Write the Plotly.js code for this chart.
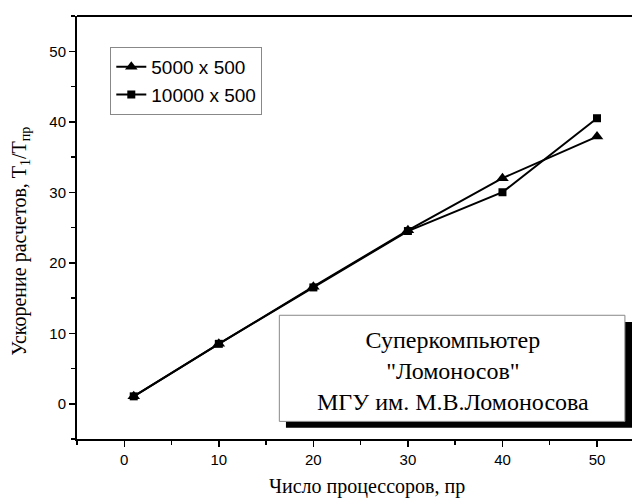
<!DOCTYPE html>
<html><head><meta charset="utf-8">
<script src="https://cdn.plot.ly/plotly-3.0.1.min.js"></script>
<style>html,body{margin:0;padding:0;background:#fff}#chart{width:632px;height:499px}</style>
</head><body><div id="chart"></div>
<script>
const processors = [1, 10, 20, 30, 40, 50];
const speedup5000 = [1.05, 8.5, 16.6, 24.6, 32.0, 37.9];
const speedup10000 = [1.05, 8.5, 16.5, 24.5, 30.0, 40.5];
const seriesNames = ["5000 x 500", "10000 x 500"];
const xTicks = [0, 10, 20, 30, 40, 50];
const yTicks = [0, 10, 20, 30, 40, 50];
const xTitle = "Число процессоров, пр";
const yTitle = "Ускорение расчетов, T<sub>1</sub>/T<sub>пр</sub>";
const boxText = "Суперкомпьютер<br>\"Ломоносов\"<br>МГУ им. М.В.Ломоносова";

const serif = 'Liberation Serif, Times New Roman, serif';
const sans = 'Arial, Liberation Sans, sans-serif';

const traces = [
  {x: processors, y: speedup5000, name: seriesNames[0], mode: 'lines+markers',
   line: {color: '#000', width: 2}, marker: {symbol: 'triangle-up', size: 11, color: '#000'}},
  {x: processors, y: speedup10000, name: seriesNames[1], mode: 'lines+markers',
   line: {color: '#000', width: 2}, marker: {symbol: 'square', size: 8, color: '#000'}}
];
const axisCommon = {
  showgrid: false, zeroline: false, showline: true, linecolor: '#000', linewidth: 2,
  ticks: 'outside', ticklen: 6, tickwidth: 1.5, tickcolor: '#000',
  tickfont: {family: sans, size: 15, color: '#000'},
  minor: {ticks: 'outside', ticklen: 4, tickwidth: 1.5, tickcolor: '#000', dtick: 5}
};
const layout = {
  width: 632, height: 499,
  margin: {l: 77, r: 0, t: 16, b: 60},
  paper_bgcolor: '#fff', plot_bgcolor: '#fff',
  showlegend: true,
  legend: {x: 0.06, y: 0.927, xanchor: 'left', yanchor: 'top', bordercolor: '#888', borderwidth: 1,
    bgcolor: '#fff', font: {family: sans, size: 19, color: '#000'},
    tracegroupgap: 0, itemsizing: 'trace'},
  xaxis: Object.assign({}, axisCommon, {range: [-5, 53.7], tickvals: xTicks}),
  yaxis: Object.assign({}, axisCommon, {range: [-5, 55], tickvals: yTicks}),
  shapes: [
    {type: 'line', xref: 'paper', yref: 'paper', x0: 0, x1: 1, y0: 1, y1: 1, line: {color: '#000', width: 2}},
    {type: 'rect', xref: 'x', yref: 'y', x0: 17.1, x1: 53.7, y0: -3.4, y1: 11.6, fillcolor: '#000', line: {width: 0}},
    {type: 'rect', xref: 'x', yref: 'y', x0: 16.4, x1: 52.95, y0: -2.5, y1: 12.55, fillcolor: '#fff', line: {color: '#888', width: 1}}
  ],
  annotations: [
    {xref: 'x', yref: 'y', x: 34.8, y: 4.6, text: boxText, showarrow: false,
     font: {family: serif, size: 24, color: '#000'}, align: 'center'},
    {xref: 'paper', yref: 'paper', x: 0.5225, y: -0.113, xanchor: 'center', yanchor: 'middle',
     text: xTitle, showarrow: false, font: {family: serif, size: 20, color: '#000'}},
    {xref: 'paper', yref: 'paper', x: -0.103, y: 0.468, xanchor: 'center', yanchor: 'middle', textangle: -90,
     text: yTitle, showarrow: false, font: {family: serif, size: 20, color: '#000'}}
  ]
};
Plotly.newPlot('chart', traces, layout, {displayModeBar: false, staticPlot: true});
</script></body></html>
